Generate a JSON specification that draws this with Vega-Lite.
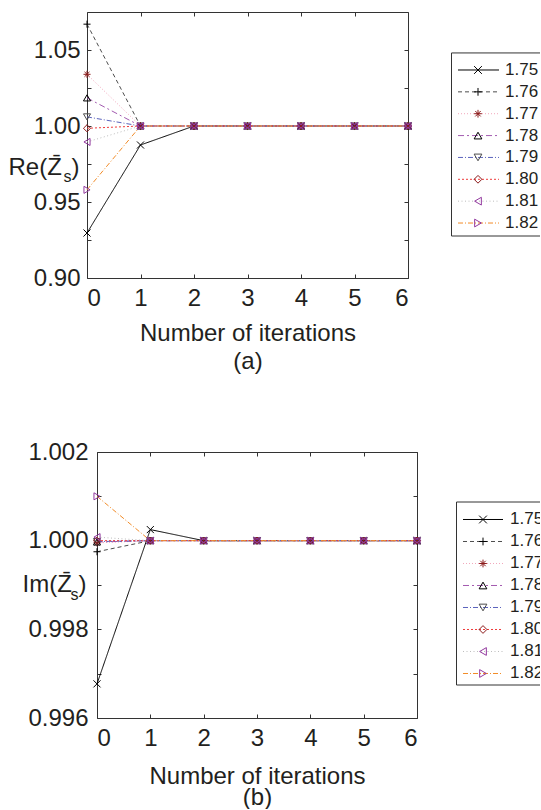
{
  "$schema": "https://vega.github.io/schema/vega-lite/v6.json",
  "padding": {"left": 8, "top": 11, "right": 0, "bottom": 0},
  "background": "white",
  "config": {
    "font": "Liberation Sans",
    "view": {"stroke": null},
    "axis": {
      "grid": false,
      "domainColor": "#333333",
      "tickColor": "#333333",
      "labelColor": "#231f20",
      "titleColor": "#231f20",
      "labelFont": "Liberation Sans",
      "titleFont": "Liberation Sans",
      "labelFontSize": 24,
      "titleFontSize": 24,
      "titleFontWeight": "normal",
      "tickSize": -4,
      "domainWidth": 1,
      "tickWidth": 1
    }
  },
  "datasets": {
    "re": [
      {"series": 1.75, "iter": 0, "val": 0.9296}, {"series": 1.75, "iter": 1, "val": 0.9875}, {"series": 1.75, "iter": 2, "val": 1.0}, {"series": 1.75, "iter": 3, "val": 1.0}, {"series": 1.75, "iter": 4, "val": 1.0}, {"series": 1.75, "iter": 5, "val": 1.0}, {"series": 1.75, "iter": 6, "val": 1.0},
      {"series": 1.76, "iter": 0, "val": 1.067}, {"series": 1.76, "iter": 1, "val": 1.0}, {"series": 1.76, "iter": 2, "val": 1.0}, {"series": 1.76, "iter": 3, "val": 1.0}, {"series": 1.76, "iter": 4, "val": 1.0}, {"series": 1.76, "iter": 5, "val": 1.0}, {"series": 1.76, "iter": 6, "val": 1.0},
      {"series": 1.77, "iter": 0, "val": 1.034}, {"series": 1.77, "iter": 1, "val": 1.0}, {"series": 1.77, "iter": 2, "val": 1.0}, {"series": 1.77, "iter": 3, "val": 1.0}, {"series": 1.77, "iter": 4, "val": 1.0}, {"series": 1.77, "iter": 5, "val": 1.0}, {"series": 1.77, "iter": 6, "val": 1.0},
      {"series": 1.78, "iter": 0, "val": 1.0185}, {"series": 1.78, "iter": 1, "val": 1.0}, {"series": 1.78, "iter": 2, "val": 1.0}, {"series": 1.78, "iter": 3, "val": 1.0}, {"series": 1.78, "iter": 4, "val": 1.0}, {"series": 1.78, "iter": 5, "val": 1.0}, {"series": 1.78, "iter": 6, "val": 1.0},
      {"series": 1.79, "iter": 0, "val": 1.006}, {"series": 1.79, "iter": 1, "val": 1.0}, {"series": 1.79, "iter": 2, "val": 1.0}, {"series": 1.79, "iter": 3, "val": 1.0}, {"series": 1.79, "iter": 4, "val": 1.0}, {"series": 1.79, "iter": 5, "val": 1.0}, {"series": 1.79, "iter": 6, "val": 1.0},
      {"series": 1.80, "iter": 0, "val": 0.9985}, {"series": 1.80, "iter": 1, "val": 1.0}, {"series": 1.80, "iter": 2, "val": 1.0}, {"series": 1.80, "iter": 3, "val": 1.0}, {"series": 1.80, "iter": 4, "val": 1.0}, {"series": 1.80, "iter": 5, "val": 1.0}, {"series": 1.80, "iter": 6, "val": 1.0},
      {"series": 1.81, "iter": 0, "val": 0.9895}, {"series": 1.81, "iter": 1, "val": 1.0}, {"series": 1.81, "iter": 2, "val": 1.0}, {"series": 1.81, "iter": 3, "val": 1.0}, {"series": 1.81, "iter": 4, "val": 1.0}, {"series": 1.81, "iter": 5, "val": 1.0}, {"series": 1.81, "iter": 6, "val": 1.0},
      {"series": 1.82, "iter": 0, "val": 0.958}, {"series": 1.82, "iter": 1, "val": 1.0}, {"series": 1.82, "iter": 2, "val": 1.0}, {"series": 1.82, "iter": 3, "val": 1.0}, {"series": 1.82, "iter": 4, "val": 1.0}, {"series": 1.82, "iter": 5, "val": 1.0}, {"series": 1.82, "iter": 6, "val": 1.0}
    ],
    "im": [
      {"series": 1.75, "iter": 0, "val": 0.99677}, {"series": 1.75, "iter": 1, "val": 1.00025}, {"series": 1.75, "iter": 2, "val": 1.0}, {"series": 1.75, "iter": 3, "val": 1.0}, {"series": 1.75, "iter": 4, "val": 1.0}, {"series": 1.75, "iter": 5, "val": 1.0}, {"series": 1.75, "iter": 6, "val": 1.0},
      {"series": 1.76, "iter": 0, "val": 0.99975}, {"series": 1.76, "iter": 1, "val": 1.0}, {"series": 1.76, "iter": 2, "val": 1.0}, {"series": 1.76, "iter": 3, "val": 1.0}, {"series": 1.76, "iter": 4, "val": 1.0}, {"series": 1.76, "iter": 5, "val": 1.0}, {"series": 1.76, "iter": 6, "val": 1.0},
      {"series": 1.77, "iter": 0, "val": 0.99995}, {"series": 1.77, "iter": 1, "val": 1.0}, {"series": 1.77, "iter": 2, "val": 1.0}, {"series": 1.77, "iter": 3, "val": 1.0}, {"series": 1.77, "iter": 4, "val": 1.0}, {"series": 1.77, "iter": 5, "val": 1.0}, {"series": 1.77, "iter": 6, "val": 1.0},
      {"series": 1.78, "iter": 0, "val": 0.99997}, {"series": 1.78, "iter": 1, "val": 1.0}, {"series": 1.78, "iter": 2, "val": 1.0}, {"series": 1.78, "iter": 3, "val": 1.0}, {"series": 1.78, "iter": 4, "val": 1.0}, {"series": 1.78, "iter": 5, "val": 1.0}, {"series": 1.78, "iter": 6, "val": 1.0},
      {"series": 1.79, "iter": 0, "val": 0.99998}, {"series": 1.79, "iter": 1, "val": 1.0}, {"series": 1.79, "iter": 2, "val": 1.0}, {"series": 1.79, "iter": 3, "val": 1.0}, {"series": 1.79, "iter": 4, "val": 1.0}, {"series": 1.79, "iter": 5, "val": 1.0}, {"series": 1.79, "iter": 6, "val": 1.0},
      {"series": 1.80, "iter": 0, "val": 1.0}, {"series": 1.80, "iter": 1, "val": 1.0}, {"series": 1.80, "iter": 2, "val": 1.0}, {"series": 1.80, "iter": 3, "val": 1.0}, {"series": 1.80, "iter": 4, "val": 1.0}, {"series": 1.80, "iter": 5, "val": 1.0}, {"series": 1.80, "iter": 6, "val": 1.0},
      {"series": 1.81, "iter": 0, "val": 1.00008}, {"series": 1.81, "iter": 1, "val": 1.0}, {"series": 1.81, "iter": 2, "val": 1.0}, {"series": 1.81, "iter": 3, "val": 1.0}, {"series": 1.81, "iter": 4, "val": 1.0}, {"series": 1.81, "iter": 5, "val": 1.0}, {"series": 1.81, "iter": 6, "val": 1.0},
      {"series": 1.82, "iter": 0, "val": 1.001}, {"series": 1.82, "iter": 1, "val": 1.0}, {"series": 1.82, "iter": 2, "val": 1.0}, {"series": 1.82, "iter": 3, "val": 1.0}, {"series": 1.82, "iter": 4, "val": 1.0}, {"series": 1.82, "iter": 5, "val": 1.0}, {"series": 1.82, "iter": 6, "val": 1.0}
    ]
  },
  "spacing": 67,
  "vconcat": [
    {
      "spacing": 37,
      "hconcat": [
        {
          "width": 321,
          "height": 266,
          "data": {"name": "re"},
          "resolve": {"axis": {"x": "independent", "y": "independent"}},
          "layer": [
            {
              "mark": {"type": "line", "strokeWidth": 1},
              "encoding": {
                "x": {"field": "iter", "type": "quantitative", "scale": {"domain": [0, 6], "nice": false},
                  "axis": {"orient": "bottom", "values": [0, 1, 2, 3, 4, 5, 6], "labelPadding": 12, "title": ["Number of iterations", "(a)"], "titlePadding": 11, "titleLineHeight": 28}},
                "y": {"field": "val", "type": "quantitative", "scale": {"domain": [0.9, 1.075], "zero": false, "nice": false},
                  "axis": {"orient": "left", "values": [0.9, 0.925, 0.95, 0.975, 1.0, 1.025, 1.05],
                    "labelExpr": "round(datum.value * 1000) % 50 == 0 ? format(datum.value, '.2f') : ''",
                    "labelPadding": 11,
                    "title": "Re(Z\u0304\u2009\u2009)", "titleAngle": 0, "titleAlign": "left", "titleBaseline": "alphabetic", "titleX": -79, "titleY": 162}},
                "color": {"field": "series", "type": "nominal", "legend": null,
                  "scale": {"domain": [1.75, 1.76, 1.77, 1.78, 1.79, 1.8, 1.81, 1.82],
                    "range": ["#000000", "#4d4d4d", "#f2a7bc", "#a35bb0", "#5b63bd", "#ee3b3b", "#bdbdbd", "#f28c28"]}},
                "strokeDash": {"field": "series", "type": "nominal", "legend": null,
                  "scale": {"domain": [1.75, 1.76, 1.77, 1.78, 1.79, 1.8, 1.81, 1.82],
                    "range": [[1, 0], [4, 3], [1, 2], [6, 3, 2, 3], [5, 2, 1, 2], [2, 2], [1, 2.5], [5, 2, 1, 2]]}}
              }
            },
            {
              "mark": {"type": "point", "filled": false, "size": 50, "strokeWidth": 1, "opacity": 1},
              "encoding": {
                "x": {"field": "iter", "type": "quantitative",
                  "axis": {"orient": "top", "values": [0, 1, 2, 3, 4, 5, 6], "labels": false, "title": null}},
                "y": {"field": "val", "type": "quantitative",
                  "axis": {"orient": "right", "values": [0.9, 0.925, 0.95, 0.975, 1.0, 1.025, 1.05], "labels": false,
                    "title": "s", "titleFontSize": 16, "titleAngle": 0, "titleAlign": "left", "titleBaseline": "alphabetic", "titleX": -345, "titleY": 169}},
                "shape": {"field": "series", "type": "nominal", "legend": null,
                  "scale": {"domain": [1.75, 1.76, 1.77, 1.78, 1.79, 1.8, 1.81, 1.82],
                    "range": ["M-1,-1L1,1M-1,1L1,-1", "M-1,0L1,0M0,-1L0,1", "M-1,0L1,0M0,-1L0,1M-0.7,-0.7L0.7,0.7M-0.7,0.7L0.7,-0.7", "triangle-up", "triangle-down", "diamond", "triangle-left", "triangle-right"]}},
                "stroke": {"field": "series", "type": "nominal", "legend": null,
                  "scale": {"domain": [1.75, 1.76, 1.77, 1.78, 1.79, 1.8, 1.81, 1.82],
                    "range": ["#000000", "#000000", "#8b1a1a", "#000000", "#4d4d4d", "#8b1a1a", "#93399f", "#93399f"]}}
              }
            }
          ]
        },
        {
          "width": 89,
          "height": 266,
          "data": {"name": "re"},
          "transform": [{"filter": "datum.iter == 0"}],
          "layer": [
            {
              "data": {"values": [{}]},
              "mark": {"type": "rect", "fill": "white", "stroke": "#333333", "strokeWidth": 1, "clip": true},
              "encoding": {
                "x": {"datum": 0.5, "type": "quantitative", "scale": {"domain": [0, 89], "nice": false}, "axis": null},
                "x2": {"datum": 150},
                "y": {"datum": 1.7422, "type": "quantitative", "scale": {"domain": [1.72347, 1.84515], "reverse": true, "zero": false, "nice": false}, "axis": null},
                "y2": {"datum": 1.82594}
              }
            },
            {
              "mark": {"type": "rule", "strokeWidth": 1},
              "encoding": {
                "x": {"datum": 7, "type": "quantitative"},
                "x2": {"datum": 48},
                "y": {"field": "series", "type": "quantitative"},
                "color": {"field": "series", "type": "nominal", "legend": null,
                  "scale": {"domain": [1.75, 1.76, 1.77, 1.78, 1.79, 1.8, 1.81, 1.82],
                    "range": ["#000000", "#4d4d4d", "#f2a7bc", "#a35bb0", "#5b63bd", "#ee3b3b", "#bdbdbd", "#f28c28"]}},
                "strokeDash": {"field": "series", "type": "nominal", "legend": null,
                  "scale": {"domain": [1.75, 1.76, 1.77, 1.78, 1.79, 1.8, 1.81, 1.82],
                    "range": [[1, 0], [4, 3], [1, 2], [6, 3, 2, 3], [5, 2, 1, 2], [2, 2], [1, 2.5], [5, 2, 1, 2]]}}
              }
            },
            {
              "mark": {"type": "point", "filled": false, "size": 60, "strokeWidth": 1, "opacity": 1},
              "encoding": {
                "x": {"datum": 27, "type": "quantitative"},
                "y": {"field": "series", "type": "quantitative"},
                "shape": {"field": "series", "type": "nominal", "legend": null,
                  "scale": {"domain": [1.75, 1.76, 1.77, 1.78, 1.79, 1.8, 1.81, 1.82],
                    "range": ["M-1,-1L1,1M-1,1L1,-1", "M-1,0L1,0M0,-1L0,1", "M-1,0L1,0M0,-1L0,1M-0.7,-0.7L0.7,0.7M-0.7,0.7L0.7,-0.7", "triangle-up", "triangle-down", "diamond", "triangle-left", "triangle-right"]}},
                "stroke": {"field": "series", "type": "nominal", "legend": null,
                  "scale": {"domain": [1.75, 1.76, 1.77, 1.78, 1.79, 1.8, 1.81, 1.82],
                    "range": ["#000000", "#000000", "#8b1a1a", "#000000", "#4d4d4d", "#8b1a1a", "#93399f", "#93399f"]}}
              }
            },
            {
              "mark": {"type": "text", "align": "left", "baseline": "middle", "fontSize": 17, "color": "#231f20", "clip": true},
              "encoding": {
                "x": {"datum": 54, "type": "quantitative"},
                "y": {"field": "series", "type": "quantitative"},
                "text": {"field": "series", "type": "quantitative", "format": ".2f"}
              }
            }
          ]
        }
      ]
    },
    {
      "spacing": 33,
      "hconcat": [
        {
          "width": 330,
          "height": 266,
          "data": {"name": "im"},
          "resolve": {"axis": {"x": "independent", "y": "independent"}},
          "layer": [
            {
              "mark": {"type": "line", "strokeWidth": 1},
              "encoding": {
                "x": {"field": "iter", "type": "quantitative", "scale": {"domain": [0, 6], "nice": false, "range": [10, 330]},
                  "axis": {"orient": "bottom", "values": [0, 1, 2, 3, 4, 5, 6], "labelPadding": 12, "title": ["Number of iterations", "(b)"], "titlePadding": 14, "titleLineHeight": 21}},
                "y": {"field": "val", "type": "quantitative", "scale": {"domain": [0.996, 1.002], "zero": false, "nice": false},
                  "axis": {"orient": "left", "offset": -10, "values": [0.996, 0.997, 0.998, 0.999, 1.0, 1.001, 1.002],
                    "labelExpr": "round(datum.value * 1000) % 2 == 0 ? format(datum.value, '.3f') : ''",
                    "labelPadding": 13,
                    "title": "Im(Z\u0304\u2009\u200a)", "titleAngle": 0, "titleAlign": "left", "titleBaseline": "alphabetic", "titleX": -75, "titleY": 139}},
                "color": {"field": "series", "type": "nominal", "legend": null,
                  "scale": {"domain": [1.75, 1.76, 1.77, 1.78, 1.79, 1.8, 1.81, 1.82],
                    "range": ["#000000", "#4d4d4d", "#f2a7bc", "#a35bb0", "#5b63bd", "#ee3b3b", "#bdbdbd", "#f28c28"]}},
                "strokeDash": {"field": "series", "type": "nominal", "legend": null,
                  "scale": {"domain": [1.75, 1.76, 1.77, 1.78, 1.79, 1.8, 1.81, 1.82],
                    "range": [[1, 0], [4, 3], [1, 2], [6, 3, 2, 3], [5, 2, 1, 2], [2, 2], [1, 2.5], [5, 2, 1, 2]]}}
              }
            },
            {
              "mark": {"type": "point", "filled": false, "size": 50, "strokeWidth": 1, "opacity": 1},
              "encoding": {
                "x": {"field": "iter", "type": "quantitative",
                  "axis": {"orient": "top", "values": [0, 1, 2, 3, 4, 5, 6], "labels": false, "title": null}},
                "y": {"field": "val", "type": "quantitative",
                  "axis": {"orient": "right", "values": [0.996, 0.997, 0.998, 0.999, 1.0, 1.001, 1.002], "labels": false,
                    "title": "s", "titleFontSize": 16, "titleAngle": 0, "titleAlign": "left", "titleBaseline": "alphabetic", "titleX": -347, "titleY": 147}},
                "shape": {"field": "series", "type": "nominal", "legend": null,
                  "scale": {"domain": [1.75, 1.76, 1.77, 1.78, 1.79, 1.8, 1.81, 1.82],
                    "range": ["M-1,-1L1,1M-1,1L1,-1", "M-1,0L1,0M0,-1L0,1", "M-1,0L1,0M0,-1L0,1M-0.7,-0.7L0.7,0.7M-0.7,0.7L0.7,-0.7", "triangle-up", "triangle-down", "diamond", "triangle-left", "triangle-right"]}},
                "stroke": {"field": "series", "type": "nominal", "legend": null,
                  "scale": {"domain": [1.75, 1.76, 1.77, 1.78, 1.79, 1.8, 1.81, 1.82],
                    "range": ["#000000", "#000000", "#8b1a1a", "#93399f", "#93399f", "#8b1a1a", "#666666", "#000000"]}}
              }
            }
          ]
        },
        {
          "width": 84,
          "height": 266,
          "data": {"name": "im"},
          "transform": [{"filter": "datum.iter == 0"}],
          "layer": [
            {
              "data": {"values": [{}]},
              "mark": {"type": "rect", "fill": "white", "stroke": "#333333", "strokeWidth": 1, "clip": true},
              "encoding": {
                "x": {"datum": 0.5, "type": "quantitative", "scale": {"domain": [0, 84], "nice": false}, "axis": null},
                "x2": {"datum": 150},
                "y": {"datum": 1.74205, "type": "quantitative", "scale": {"domain": [1.71932, 1.84023], "reverse": true, "zero": false, "nice": false}, "axis": null},
                "y2": {"datum": 1.82523}
              }
            },
            {
              "mark": {"type": "rule", "strokeWidth": 1},
              "encoding": {
                "x": {"datum": 7, "type": "quantitative"},
                "x2": {"datum": 47},
                "y": {"field": "series", "type": "quantitative"},
                "color": {"field": "series", "type": "nominal", "legend": null,
                  "scale": {"domain": [1.75, 1.76, 1.77, 1.78, 1.79, 1.8, 1.81, 1.82],
                    "range": ["#000000", "#4d4d4d", "#f2a7bc", "#a35bb0", "#5b63bd", "#ee3b3b", "#bdbdbd", "#f28c28"]}},
                "strokeDash": {"field": "series", "type": "nominal", "legend": null,
                  "scale": {"domain": [1.75, 1.76, 1.77, 1.78, 1.79, 1.8, 1.81, 1.82],
                    "range": [[1, 0], [4, 3], [1, 2], [6, 3, 2, 3], [5, 2, 1, 2], [2, 2], [1, 2.5], [5, 2, 1, 2]]}}
              }
            },
            {
              "mark": {"type": "point", "filled": false, "size": 60, "strokeWidth": 1, "opacity": 1},
              "encoding": {
                "x": {"datum": 27, "type": "quantitative"},
                "y": {"field": "series", "type": "quantitative"},
                "shape": {"field": "series", "type": "nominal", "legend": null,
                  "scale": {"domain": [1.75, 1.76, 1.77, 1.78, 1.79, 1.8, 1.81, 1.82],
                    "range": ["M-1,-1L1,1M-1,1L1,-1", "M-1,0L1,0M0,-1L0,1", "M-1,0L1,0M0,-1L0,1M-0.7,-0.7L0.7,0.7M-0.7,0.7L0.7,-0.7", "triangle-up", "triangle-down", "diamond", "triangle-left", "triangle-right"]}},
                "stroke": {"field": "series", "type": "nominal", "legend": null,
                  "scale": {"domain": [1.75, 1.76, 1.77, 1.78, 1.79, 1.8, 1.81, 1.82],
                    "range": ["#000000", "#000000", "#8b1a1a", "#93399f", "#93399f", "#8b1a1a", "#666666", "#000000"]}}
              }
            },
            {
              "mark": {"type": "text", "align": "left", "baseline": "middle", "fontSize": 17, "color": "#231f20", "clip": true},
              "encoding": {
                "x": {"datum": 54, "type": "quantitative"},
                "y": {"field": "series", "type": "quantitative"},
                "text": {"field": "series", "type": "quantitative", "format": ".2f"}
              }
            }
          ]
        }
      ]
    }
  ]
}
